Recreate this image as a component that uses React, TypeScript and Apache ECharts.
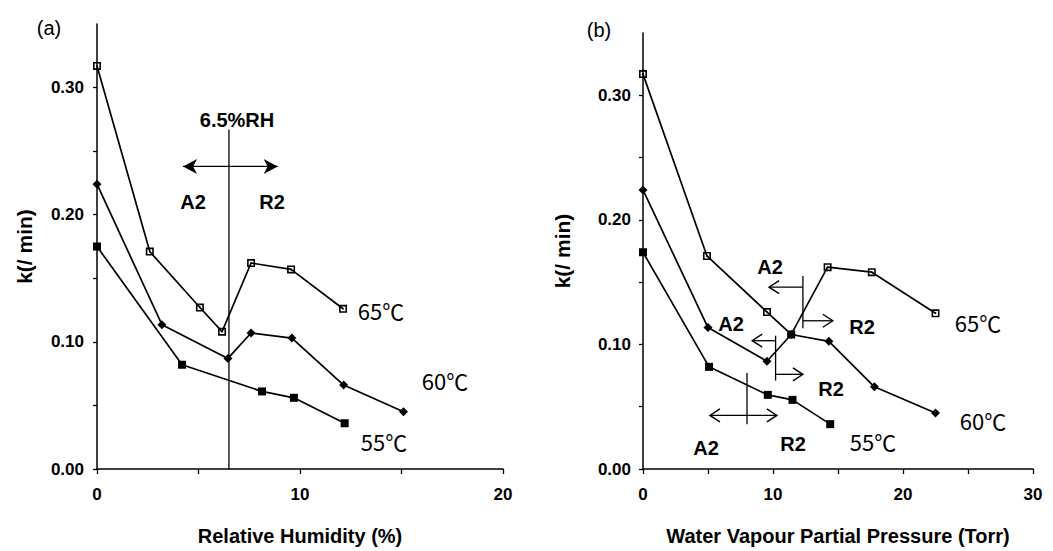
import React, { useEffect, useRef } from 'react';
import * as echarts from 'echarts';

// ---- Panel (a): rate constant vs relative humidity ----
const rh65 = [0, 2.6, 5.07, 6.16, 7.59, 9.56, 12.12];
const kA65 = [0.317, 0.171, 0.127, 0.108, 0.162, 0.157, 0.126];
const rh60 = [0, 3.2, 6.45, 7.59, 9.6, 12.15, 15.1];
const kA60 = [0.224, 0.1135, 0.087, 0.107, 0.103, 0.066, 0.045];
const rh55 = [0, 4.19, 8.13, 9.7, 12.2];
const kA55 = [0.175, 0.082, 0.061, 0.056, 0.036];
const rhThreshold = 6.5;

// ---- Panel (b): rate constant vs water vapour partial pressure ----
const p65 = [0, 4.92, 9.54, 11.4, 14.2, 17.6, 22.5];
const kB65 = [0.317, 0.171, 0.126, 0.108, 0.162, 0.158, 0.125];
const p60 = [0, 5.0, 9.54, 11.4, 14.3, 17.8, 22.5];
const kB60 = [0.224, 0.1135, 0.0865, 0.108, 0.1025, 0.066, 0.045];
const p55 = [0, 5.08, 9.6, 11.5, 14.4];
const kB55 = [0.174, 0.082, 0.0595, 0.0555, 0.036];
// pressure equivalent of the threshold at each temperature
const pThr65 = 12.3;
const pThr60 = 10.2;
const pThr55 = 8.0;

// ---- Axis ticks ----
const kLabelTicks = [0, 0.1, 0.2, 0.3];
const kTicks = [0, 0.05, 0.1, 0.15, 0.2, 0.25, 0.3];
const rhLabelTicks = [0, 10, 20];
const rhTicks = [0, 5, 10, 15, 20];
const pLabelTicks = [0, 10, 20, 30];
const pTicks = [0, 5, 10, 15, 20, 25, 30];

// ---- Threshold markers, in data units: [grid, x, yFrom, yTo] ----
const markerLines: number[][] = [
  [0, rhThreshold, 0, 0.267],
  [1, pThr65, 0.155, 0.113],
  [1, pThr60, 0.107, 0.071],
  [1, pThr55, 0.077, 0.036],
];
// Arrows: [grid, xFrom, xTo, y, doubleHeaded (1/0)]
const dartArrows: number[][] = [[0, 4.24, 8.9, 0.238, 1]];
const openArrows: number[][] = [
  [1, pThr65, 9.7, 0.146, 0],
  [1, pThr65, 14.6, 0.119, 0],
  [1, pThr60, 8.4, 0.103, 0],
  [1, pThr60, 12.3, 0.076, 0],
  [1, 5.15, 10.3, 0.043, 1],
];

const SANS = '"Liberation Sans", Arial, Helvetica, sans-serif';
const CJK = '"Noto Sans CJK JP", "Noto Sans", sans-serif';
const INK = '#000';

const openSquare = 'path://M0,0H10V10H0Z M2,2V8H8V2Z M4,4H6V6H4Z';

const pairs = (xs: number[], ys: number[]) => xs.map((x, i) => [x, ys[i]]);

function xAxisCfg(grid: number, max: number, ticks: number[], labels: number[], name: string) {
  return {
    type: 'value',
    gridIndex: grid,
    min: 0,
    max,
    interval: 5,
    name,
    nameLocation: 'middle',
    nameGap: 57,
    nameTextStyle: { fontFamily: SANS, fontWeight: 'bold', fontSize: 20, color: INK },
    axisLine: { show: true, onZero: false, lineStyle: { color: INK, width: 1.5 } },
    axisTick: { show: true, length: 5, customValues: ticks, lineStyle: { color: INK, width: 1.3 } },
    axisLabel: {
      customValues: labels,
      margin: 17,
      fontFamily: SANS,
      fontWeight: 'bold',
      fontSize: 17,
      color: INK,
    },
    splitLine: { show: false },
  };
}

function yAxisCfg(grid: number, gap: number, margin: number) {
  return {
    type: 'value',
    gridIndex: grid,
    min: 0,
    max: 0.35,
    interval: 0.05,
    name: 'k(/ min)',
    nameLocation: 'middle',
    nameRotate: 90,
    nameGap: gap,
    nameTextStyle: { fontFamily: SANS, fontWeight: 'bold', fontSize: 21, color: INK },
    axisLine: { show: true, onZero: false, lineStyle: { color: INK, width: 1.5 } },
    axisTick: { show: true, length: 4, customValues: kTicks, lineStyle: { color: INK, width: 1.3 } },
    axisLabel: {
      customValues: kLabelTicks,
      formatter: (v: number) => v.toFixed(2),
      margin,
      fontFamily: SANS,
      fontWeight: 'bold',
      fontSize: 17,
      color: INK,
    },
    splitLine: { show: false },
  };
}

function curve(name: string, grid: number, data: number[][], symbol: string, size: number) {
  return {
    type: 'line',
    name,
    xAxisIndex: grid,
    yAxisIndex: grid,
    data,
    symbol,
    symbolSize: size,
    showSymbol: true,
    lineStyle: { color: INK, width: 1.7 },
    itemStyle: { color: INK, borderWidth: 0 },
    z: 3,
  };
}

function txt(text: string, x: number, y: number, font: string) {
  return {
    type: 'text',
    x,
    y,
    style: { text, font, fill: INK, align: 'center', verticalAlign: 'middle' },
    silent: true,
    z: 10,
  };
}

export default function App() {
  const ref = useRef<HTMLDivElement>(null);

  useEffect(() => {
    if (!ref.current) return;
    const chart = echarts.init(ref.current, undefined, { renderer: 'svg' });

    chart.setOption({
      animation: false,
      backgroundColor: '#fff',
      grid: [
        { left: 97, right: 550, top: 24, bottom: 82, containLabel: false },
        { left: 643, right: 20, top: 33, bottom: 79, containLabel: false },
      ],
      xAxis: [
        xAxisCfg(0, 20, rhTicks, rhLabelTicks, 'Relative Humidity (%)'),
        xAxisCfg(1, 30, pTicks, pLabelTicks, 'Water Vapour Partial Pressure (Torr)'),
      ],
      yAxis: [yAxisCfg(0, 62, 13), yAxisCfg(1, 70, 12)],
      series: [
        curve('65℃ (a)', 0, pairs(rh65, kA65), openSquare, 8),
        curve('60℃ (a)', 0, pairs(rh60, kA60), 'diamond', 9),
        curve('55℃ (a)', 0, pairs(rh55, kA55), 'rect', 8),
        curve('65℃ (b)', 1, pairs(p65, kB65), openSquare, 8),
        curve('60℃ (b)', 1, pairs(p60, kB60), 'diamond', 9),
        curve('55℃ (b)', 1, pairs(p55, kB55), 'rect', 8),
      ],
    });

    // Annotation marks are placed through the axes' own scales.
    const px = (g: number, x: number, y: number) =>
      chart.convertToPixel({ xAxisIndex: g, yAxisIndex: g }, [x, y]) as number[];

    const marks: any[] = [];
    const lineStyle = { stroke: INK, lineWidth: 1.3 };

    markerLines.forEach(([g, x, y1, y2]) => {
      const a = px(g, x, y1);
      const b = px(g, x, y2);
      marks.push({ type: 'line', shape: { x1: a[0], y1: a[1], x2: b[0], y2: b[1] }, style: lineStyle, silent: true });
    });

    // filled dart head with a notched back, tip at (tx, ty), pointing along dir (+1 / -1)
    const dartHead = (tx: number, ty: number, dir: number) => ({
      type: 'polygon',
      shape: {
        points: [
          [tx, ty],
          [tx - dir * 14, ty - 7.5],
          [tx - dir * 10, ty],
          [tx - dir * 14, ty + 7.5],
        ],
      },
      style: { fill: INK },
      silent: true,
    });
    // open chevron head
    const openHead = (tx: number, ty: number, dir: number) => ({
      type: 'polyline',
      shape: {
        points: [
          [tx - dir * 10, ty - 6.5],
          [tx, ty],
          [tx - dir * 10, ty + 6.5],
        ],
      },
      style: { stroke: INK, lineWidth: 1.4, fill: null },
      silent: true,
    });

    const addArrow = (arrow: number[], head: (tx: number, ty: number, dir: number) => any) => {
      const [g, xa, xb, y, both] = arrow;
      const a = px(g, xa, y);
      const b = px(g, xb, y);
      const dir = b[0] > a[0] ? 1 : -1;
      marks.push({ type: 'line', shape: { x1: a[0], y1: a[1], x2: b[0], y2: b[1] }, style: lineStyle, silent: true });
      marks.push(head(b[0], b[1], dir));
      if (both) marks.push(head(a[0], a[1], -dir));
    };
    dartArrows.forEach((a) => addArrow(a, dartHead));
    openArrows.forEach((a) => addArrow(a, openHead));

    const bold20 = `bold 20px ${SANS}`;
    const cjk22 = `22px ${CJK}`;

    chart.setOption({
      graphic: [
        ...marks,
        txt('(a)', 49, 28, `20px ${SANS}`),
        txt('6.5%RH', 237, 120, bold20),
        txt('A2', 193, 202, bold20),
        txt('R2', 272, 202, bold20),
        txt('65℃', 381, 310, cjk22),
        txt('60℃', 445, 380, cjk22),
        txt('55℃', 384, 441, cjk22),
        txt('(b)', 599, 30, `20px ${SANS}`),
        txt('A2', 770, 267, bold20),
        txt('R2', 862, 327, bold20),
        txt('A2', 731, 324, bold20),
        txt('R2', 831, 389, bold20),
        txt('A2', 706, 448, bold20),
        txt('R2', 793, 444, bold20),
        txt('65℃', 978, 322, cjk22),
        txt('60℃', 983, 420, cjk22),
        txt('55℃', 873, 441, cjk22),
      ],
    });

    return () => chart.dispose();
  }, []);

  return (
    <div
      ref={ref}
      style={{ position: 'fixed', left: 0, top: 0, width: 1053, height: 551, background: '#fff' }}
    />
  );
}
